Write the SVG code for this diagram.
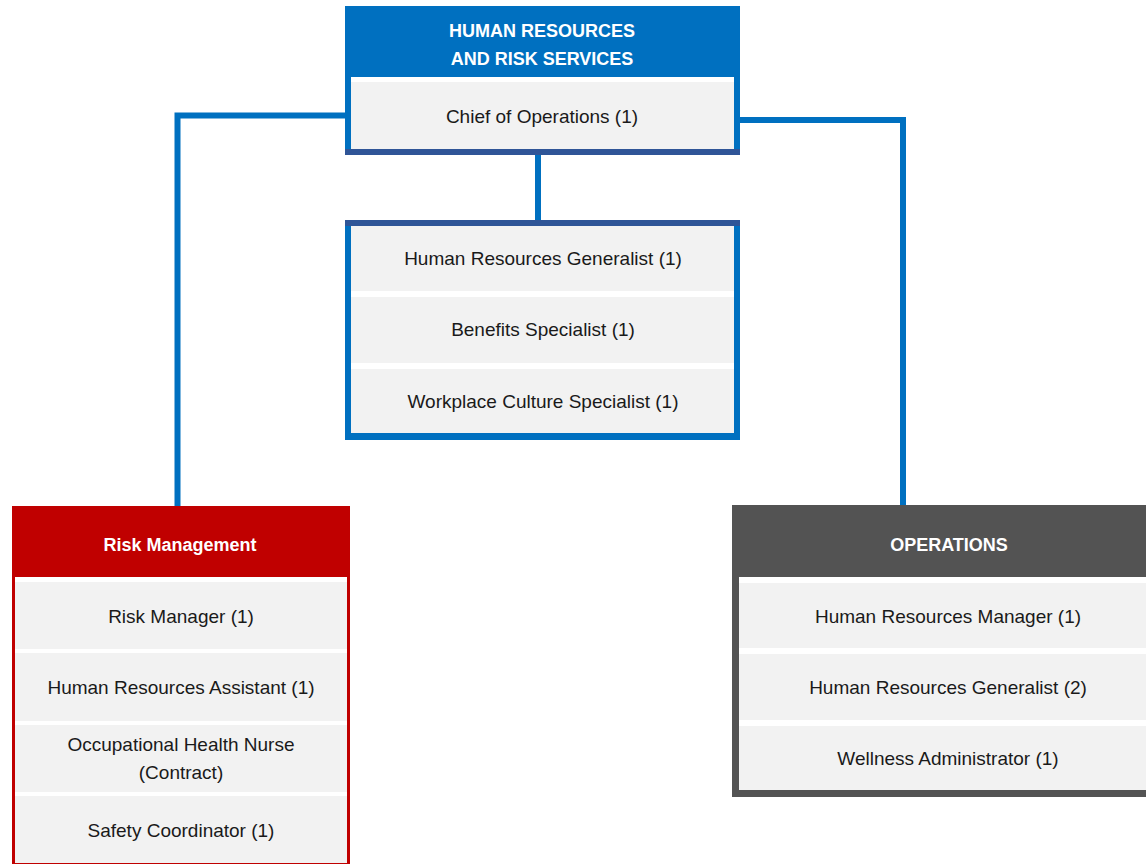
<svg xmlns="http://www.w3.org/2000/svg" width="1146" height="864" viewBox="0 0 1146 864">
<style>
.t{font-family:"Liberation Sans",Arial,sans-serif;font-size:19px;fill:#1a1a1a;text-anchor:middle}
.h{font-family:"Liberation Sans",Arial,sans-serif;font-size:18px;font-weight:bold;fill:#ffffff;text-anchor:middle}
.cell{fill:#f2f2f2}
.gap{fill:#ffffff}
.conn{fill:none;stroke:#0070c0;stroke-width:6;stroke-linejoin:miter}
</style>
<rect width="1146" height="864" fill="#ffffff"/>
<g id="connectors">
<polyline class="conn" points="345,115.5 177.5,115.5 177.5,506"/>
<polyline class="conn" points="740,120 903,120 903,505"/>
<line class="conn" x1="538" y1="155" x2="538" y2="220"/>
</g>
<g id="hr-risk-services">
<rect x="345" y="6" width="395" height="149" fill="#0070c0"/>
<rect class="gap" x="351" y="77" width="383" height="5"/>
<rect class="cell" x="351" y="82" width="383" height="67"/>
<rect x="345" y="149" width="395" height="6" fill="#2f5597"/>
<text class="h" x="542" y="36.5">HUMAN RESOURCES</text>
<text class="h" x="542" y="65">AND RISK SERVICES</text>
<text class="t" x="542" y="122.5">Chief of Operations (1)</text>
</g>
<g id="hr-staff">
<rect x="345" y="226" width="395" height="214" fill="#0070c0"/>
<rect x="345" y="220" width="395" height="6" fill="#2f5597"/>
<rect class="gap" x="351" y="226" width="383" height="207"/>
<rect class="cell" x="351" y="226" width="383" height="65"/>
<rect class="cell" x="351" y="297" width="383" height="66"/>
<rect class="cell" x="351" y="369" width="383" height="64"/>
<text class="t" x="543" y="265">Human Resources Generalist (1)</text>
<text class="t" x="543" y="336">Benefits Specialist (1)</text>
<text class="t" x="543" y="408">Workplace Culture Specialist (1)</text>
</g>
<g id="risk-management">
<rect x="12" y="506" width="338" height="364" fill="#c00000"/>
<rect class="gap" x="15" y="577" width="332" height="286"/>
<rect class="cell" x="15" y="582" width="332" height="67"/>
<rect class="cell" x="15" y="653" width="332" height="68"/>
<rect class="cell" x="15" y="725" width="332" height="67"/>
<rect class="cell" x="15" y="796" width="332" height="67"/>
<text class="h" x="180" y="551">Risk Management</text>
<text class="t" x="181" y="623">Risk Manager (1)</text>
<text class="t" x="181" y="694">Human Resources Assistant (1)</text>
<text class="t" x="181" y="750.5">Occupational Health Nurse</text>
<text class="t" x="181" y="778.5">(Contract)</text>
<text class="t" x="181" y="836.5">Safety Coordinator (1)</text>
</g>
<g id="operations">
<rect x="732" y="505" width="420" height="292" fill="#535353"/>
<rect class="gap" x="739" y="577" width="410" height="213"/>
<rect class="cell" x="739" y="583" width="410" height="65"/>
<rect class="cell" x="739" y="654" width="410" height="66"/>
<rect class="cell" x="739" y="726" width="410" height="64"/>
<text class="h" x="949" y="550.5">OPERATIONS</text>
<text class="t" x="948" y="623">Human Resources Manager (1)</text>
<text class="t" x="948" y="694">Human Resources Generalist (2)</text>
<text class="t" x="948" y="765">Wellness Administrator (1)</text>
</g>
</svg>
